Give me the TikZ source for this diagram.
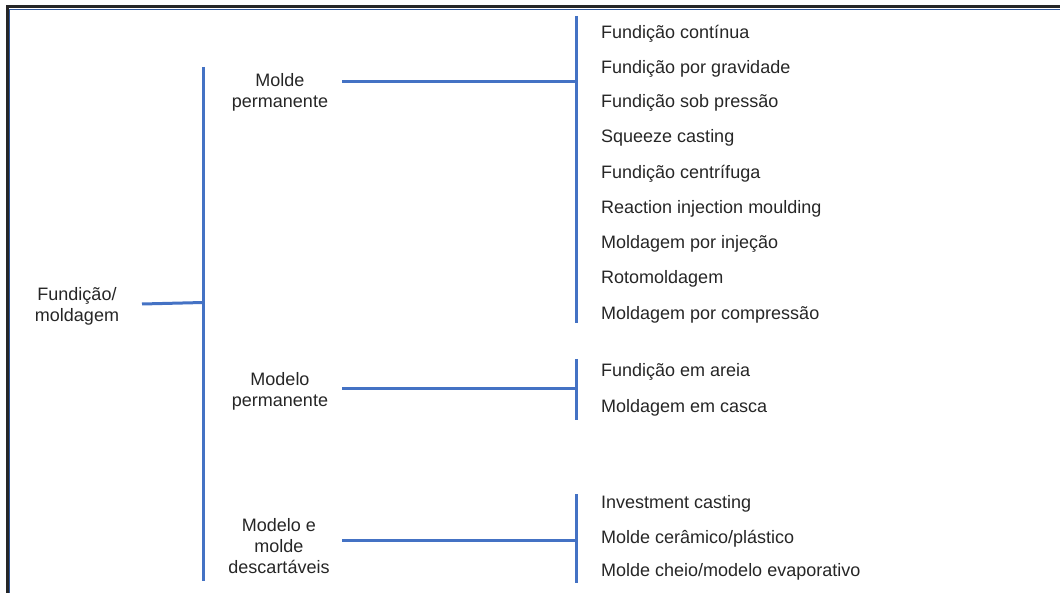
\documentclass[tikz,border=0pt]{standalone}
\usepackage{fontspec}
\setmainfont{Liberation Sans}
\definecolor{lineblue}{HTML}{4472C4}
\definecolor{frameblue}{HTML}{2F5597}
\begin{document}
\begin{tikzpicture}[x=1pt,y=-1pt,
  conn/.style={draw=lineblue,line width=3pt},
  lbl/.style={inner sep=0pt,text=black!85,font=\fontsize{18}{21}\selectfont},
  mid/.style={lbl,align=center},
  item/.style={lbl,anchor=west}]
\useasboundingbox (0,0) rectangle (1060,593);
% frame
\draw[black!85,line width=2.5pt] (7.5,593) -- (7.5,6.5) -- (1060,6.5);
\draw[frameblue,line width=1pt] (9.5,593) -- (9.5,9.5) -- (1060,9.5);
% labels
\node[mid] (root) at (77,306) {Fundição/\\moldagem};
\node[mid] (mp) at (280,92) {Molde\\permanente};
\node[mid] (mdp) at (280,391) {Modelo\\permanente};
\node[mid] (mmd) at (279,546) {Modelo e\\molde\\descartáveis};
% items
\node[item] (a1) at (601,34) {Fundição contínua};
\node[item] (a2) at (601,69) {Fundição por gravidade};
\node[item] (a3) at (601,103) {Fundição sob pressão};
\node[item] (a4) at (601,138) {Squeeze casting};
\node[item] (a5) at (601,174) {Fundição centrífuga};
\node[item] (a6) at (601,209) {Reaction injection moulding};
\node[item] (a7) at (601,244) {Moldagem por injeção};
\node[item] (a8) at (601,279) {Rotomoldagem};
\node[item] (a9) at (601,315) {Moldagem por compressão};
\node[item] (b1) at (601,372) {Fundição em areia};
\node[item] (b2) at (601,408) {Moldagem em casca};
\node[item] (c1) at (601,504) {Investment casting};
\node[item] (c2) at (601,539) {Molde cerâmico/plástico};
\node[item] (c3) at (601,572) {Molde cheio/modelo evaporativo};
% junction coordinates
\coordinate (r0) at (142,304);
\coordinate (r1) at (203,302.5);
\coordinate (vt) at (203,67);
\coordinate (vb) at (203,581);
\coordinate (p0) at (342,82);
\coordinate (p1) at (576,82);
\coordinate (pt) at (576,16);
\coordinate (pb) at (576,323);
\coordinate (q0) at (342,389);
\coordinate (q1) at (576,389);
\coordinate (qt) at (576,359);
\coordinate (qb) at (576,420);
\coordinate (s0) at (342,540);
\coordinate (s1) at (576,540);
\coordinate (st) at (576,494);
\coordinate (sb) at (576,583);
% connectors
\draw[conn] (r0) -- (r1);
\draw[conn] (vt) -- (vb);
\draw[conn] (p0) -- (p1);
\draw[conn] (pt) -- (pb);
\draw[conn] (q0) -- (q1);
\draw[conn] (qt) -- (qb);
\draw[conn] (s0) -- (s1);
\draw[conn] (st) -- (sb);
\end{tikzpicture}
\end{document}
